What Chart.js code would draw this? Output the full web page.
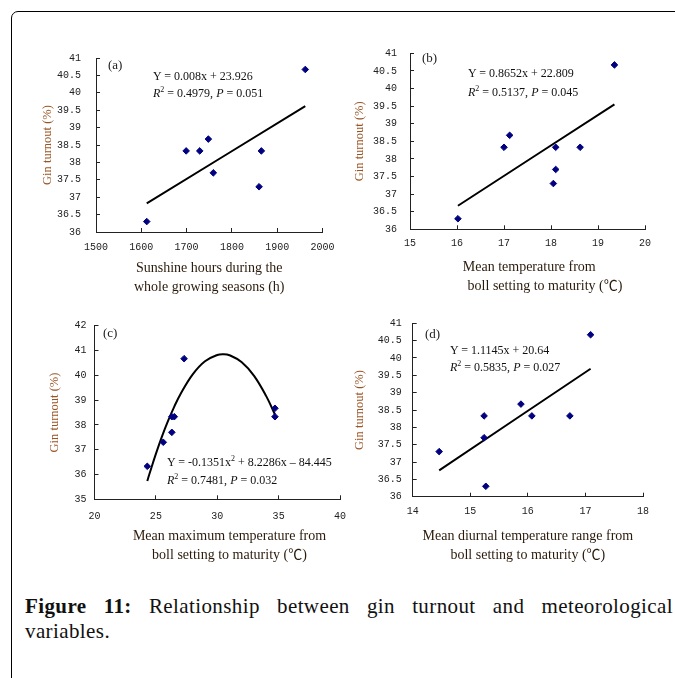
<!DOCTYPE html>
<html>
<head>
<meta charset="utf-8">
<script src="https://cdn.jsdelivr.net/npm/chart.js@4.4.1/dist/chart.umd.min.js"></script>
<style>
  html, body { margin: 0; padding: 0; background: #fff; }
  body { width: 675px; height: 678px; overflow: hidden; position: relative; font-family: "Liberation Serif", "Times New Roman", serif; }
  .frame { position: absolute; left: 11px; top: 11px; width: 700px; height: 700px; border: 1.5px solid #000; border-radius: 7px; }
  canvas { position: absolute; }
  .eq { position: absolute; font-size: 12px; line-height: 16px; color: #111; white-space: nowrap; }
  .eq sup { font-size: 8px; line-height: 0; vertical-align: 5px; }
  .lbl { position: absolute; font-size: 13px; line-height: 16px; color: #222; }
  .cap { position: absolute; left: 25px; width: 648px; font-family: "Liberation Serif", "Times New Roman", serif; font-size: 21px; letter-spacing: 0.4px; line-height: 24.5px; color: #111; white-space: nowrap; }
  .cap1 { text-align: justify; text-align-last: justify; white-space: normal; }
</style>
</head>
<body>
<div class="frame"></div>

<canvas id="chartA" width="335" height="277" style="left:20px;top:33px;width:335px;height:277px"></canvas>
<canvas id="chartB" width="330" height="280" style="left:340px;top:30px;width:330px;height:280px"></canvas>
<canvas id="chartC" width="345" height="270" style="left:20px;top:305px;width:345px;height:270px"></canvas>
<canvas id="chartD" width="330" height="275" style="left:340px;top:300px;width:330px;height:275px"></canvas>

<div class="lbl" style="left:108px;top:57px">(a)</div>
<div class="eq" style="left:153px;top:68px">Y = 0.008x + 23.926</div>
<div class="eq" style="left:153px;top:85px"><i>R</i><sup>2</sup> = 0.4979, <i>P</i> = 0.051</div>

<div class="lbl" style="left:422px;top:50px">(b)</div>
<div class="eq" style="left:468px;top:65px">Y = 0.8652x + 22.809</div>
<div class="eq" style="left:468px;top:84px"><i>R</i><sup>2</sup> = 0.5137, <i>P</i> = 0.045</div>

<div class="lbl" style="left:103px;top:325px">(c)</div>
<div class="eq" style="left:167px;top:454px">Y = -0.1351x<sup>2</sup> + 8.2286x &#8211; 84.445</div>
<div class="eq" style="left:167px;top:472px"><i>R</i><sup>2</sup> = 0.7481, <i>P</i> = 0.032</div>

<div class="lbl" style="left:425px;top:326px">(d)</div>
<div class="eq" style="left:450px;top:342px">Y = 1.1145x + 20.64</div>
<div class="eq" style="left:450px;top:359px"><i>R</i><sup>2</sup> = 0.5835, <i>P</i> = 0.027</div>

<div class="cap cap1" style="top:594px"><b>Figure 11:</b> Relationship between gin turnout and meteorological</div>
<div class="cap" style="top:619px">variables.</div>

<script>
// (a) sunshine hours
const sunshineHours = [1612, 1699, 1729, 1748, 1759, 1860, 1865, 1962];
const ginA = [36.3, 38.33, 38.33, 38.67, 37.7, 37.3, 38.33, 40.67];
const fitAx = [1612, 1962];
const fitAy = [36.82, 39.62];

// (b) mean temperature
const meanTemp = [16.02, 17.0, 17.12, 18.05, 18.1, 18.1, 18.62, 19.35];
const ginB = [36.3, 38.33, 38.67, 37.3, 38.33, 37.7, 38.33, 40.67];
const fitBx = [16.02, 19.35];
const fitBy = [36.67, 39.55];

// (c) mean maximum temperature, quadratic fit
const maxTemp = [24.3, 25.6, 26.3, 26.3, 26.5, 27.3, 34.7, 34.7];
const ginC = [36.33, 37.3, 37.7, 38.33, 38.33, 40.67, 38.67, 38.33];
const fitCx = [24.3, 24.5, 25, 25.5, 26, 26.5, 27, 28, 29, 30, 30.5, 31, 32, 33, 34, 34.7];
const fitCy = [35.74, 36.06, 36.83, 37.54, 38.17, 38.74, 39.24, 40.04, 40.57, 40.82, 40.85, 40.81, 40.53, 39.98, 39.15, 38.42];

// (d) mean diurnal temperature range
const diurnalRange = [14.46, 15.24, 15.24, 15.27, 15.88, 16.07, 16.73, 17.09];
const ginD = [37.3, 38.33, 37.7, 36.3, 38.67, 38.33, 38.33, 40.67];
const fitDx = [14.46, 17.09];
const fitDy = [36.76, 39.69];

const yTitle = "Gin turnout (%)";
const serif = "'Liberation Serif', 'Times New Roman', 'Noto Sans CJK SC', serif";
const mono = "'Liberation Mono', 'DejaVu Sans Mono', monospace";

function zip(xs, ys) {
  return xs.map(function (x, i) { return { x: x, y: ys[i] }; });
}

function scatterPanel(id, p) {
  const ctx = document.getElementById(id).getContext("2d");
  return new Chart(ctx, {
    type: "scatter",
    data: {
      datasets: [
        {
          data: zip(p.xs, p.ys),
          pointStyle: "rectRot",
          pointRadius: 3.3,
          pointBorderWidth: 1,
          backgroundColor: "#000080",
          borderColor: "#000080",
          showLine: false,
        },
        {
          data: zip(p.fitX, p.fitY),
          showLine: true,
          pointRadius: 0,
          borderColor: "#000",
          borderWidth: 2,
          tension: 0.4,
          fill: false,
        },
      ],
    },
    options: {
      responsive: false,
      animation: false,
      layout: { padding: { top: p.pt, right: p.pr, left: 0, bottom: 0 } },
      plugins: { legend: { display: false }, tooltip: { enabled: false } },
      scales: {
        x: {
          type: "linear",
          min: p.xRange[0],
          max: p.xRange[1],
          afterFit: function (s) { s.height = p.xH; },
          grid: { drawOnChartArea: false, drawTicks: true, tickLength: -4, color: "#222" },
          border: { display: true, color: "#222", width: 1 },
          ticks: {
            stepSize: p.xRange[2],
            autoSkip: false,
            padding: p.xPad,
            color: "#222",
            font: { family: mono, size: 10 },
            callback: function (v) { return String(v); },
          },
          title: {
            display: true,
            text: p.xTitle,
            color: "#2a1a0a",
            font: { family: serif, size: 14, lineHeight: 1.32 },
            padding: { top: 0, bottom: p.xTitlePad },
          },
        },
        y: {
          type: "linear",
          min: p.yRange[0],
          max: p.yRange[1],
          afterFit: function (s) { s.width = p.yW; },
          grid: { drawOnChartArea: false, drawTicks: true, tickLength: -4, color: "#222" },
          border: { display: true, color: "#222", width: 1 },
          ticks: {
            stepSize: p.yRange[2],
            autoSkip: false,
            padding: p.yPad,
            color: "#222",
            font: { family: mono, size: 10 },
            callback: function (v) { return String(v); },
          },
          title: {
            display: true,
            text: yTitle,
            color: "#9a5424",
            font: { family: serif, size: 12.5, lineHeight: 1.2 },
            padding: { top: p.yTitlePad, bottom: 0 },
          },
        },
      },
    },
  });
}

scatterPanel("chartA", {
  xs: sunshineHours, ys: ginA, fitX: fitAx, fitY: fitAy,
  xRange: [1500, 2000, 100], yRange: [36, 41, 0.5],
  xTitle: ["Sunshine hours during the", "whole growing seasons (h)"],
  yW: 76, xH: 78, pt: 25, pr: 32.5, xPad: 13, yPad: 19, xTitlePad: 13.75, yTitlePad: 20.5,
});

scatterPanel("chartB", {
  xs: meanTemp, ys: ginB, fitX: fitBx, fitY: fitBy,
  xRange: [15, 20, 1], yRange: [36, 41, 0.5],
  xTitle: ["          Mean temperature from         ", "          boll setting to maturity (\u2103)"],
  yW: 70, xH: 80.7, pt: 23.3, pr: 25, xPad: 12.3, yPad: 17, xTitlePad: 14.75, yTitlePad: 12.5,
});

scatterPanel("chartC", {
  xs: maxTemp, ys: ginC, fitX: fitCx, fitY: fitCy,
  xRange: [20, 40, 5], yRange: [35, 42, 1],
  xTitle: ["       Mean maximum temperature from", "       boll setting to maturity (\u2103)"],
  yW: 74.5, xH: 75.7, pt: 20.7, pr: 25, xPad: 14.7, yPad: 12, xTitlePad: 10.75, yTitlePad: 27.5,
});

scatterPanel("chartD", {
  xs: diurnalRange, ys: ginD, fitX: fitDx, fitY: fitDy,
  xRange: [14, 18, 1], yRange: [36, 41, 0.5],
  xTitle: ["Mean diurnal temperature range from", "boll setting to maturity (\u2103)"],
  yW: 72.7, xH: 78.3, pt: 23.3, pr: 27, xPad: 13, yPad: 15, xTitlePad: 10.75, yTitlePad: 12.5,
});
</script>
</body>
</html>
